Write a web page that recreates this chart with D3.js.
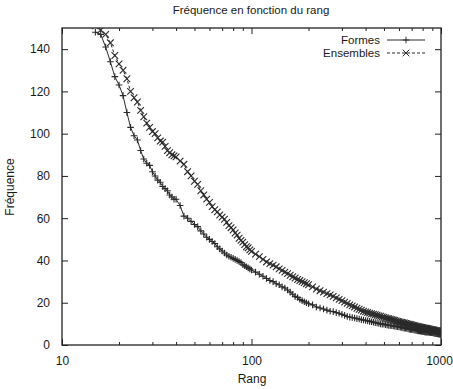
<!DOCTYPE html>
<html><head><meta charset="utf-8">
<script src="https://cdn.jsdelivr.net/npm/d3@7"></script>
<style>
body{margin:0;background:#fff;}
text{font-family:"Liberation Sans",Arial,sans-serif;fill:#1a1a1a;}
</style></head>
<body><svg id="c" width="453" height="389"></svg>
<script>
const title = "Fréquence en fonction du rang";
const xLabel = "Rang";
const yLabel = "Fréquence";
const seriesNames = ["Formes", "Ensembles"];
const xTicks = [10, 100, 1000];
const yTicks = [0, 20, 40, 60, 80, 100, 120, 140];

const ranks = [
 15,16,17,18,19,20,21,22,23,24,25,26,27,28,29,30,31,32,33,34,35,36,37,38,39,40,
 42,44,46,48,50,52,54,56,58,60,62,64,66,68,70,72,74,76,78,80,82,84,86,88,90,92,94,96,98,100,
 105,110,115,120,125,130,135,140,145,150,155,160,165,170,175,180,185,190,195,200,
 210,220,230,240,250,260,270,280,290,300,310,320,330,340,350,360,370,380,390,400,
 410,420,430,440,450,460,470,480,490,500,510,520,530,540,550,560,570,580,590,600,
 610,620,630,640,650,660,670,680,690,700,710,720,730,740,750,760,770,780,790,800,
 810,820,830,840,850,860,870,880,890,900,910,920,930,940,950,960,970,980,990,1000];

const formes = [
 148,147,141,134,127,123,118,110,103,99,97,92,88,86,85,82,80,78,77,75,74,73,71,70,69,69,
 66,61,60,58.5,57,56,54,52.5,51,50,49,48,46.5,45.5,44.5,43.5,42.6,42,41.5,41,40.5,40,39.5,39,38,37.5,37,36.5,36,35.5,
 34.5,33.5,32.5,31.5,30.5,30,29,28.5,27.5,27,26,25,24,23,22.5,21.5,21,20.5,20,19.5,
 19,18,17.5,17,16.5,16,15.8,15.3,15,14.5,14,13.5,13.2,13,12.8,12.5,12.3,12,11.8,11.6,
 11.4,11.2,11,10.8,10.6,10.4,10.2,10,9.9,9.8,9.6,9.5,9.3,9.2,9.1,9,8.9,8.8,8.7,8.6,
 8.4,8.3,8.1,8,7.9,7.8,7.6,7.5,7.4,7.3,7.2,7.1,7,6.9,6.8,6.7,6.6,6.5,6.4,6.4,
 6.3,6.2,6.1,6.1,6,6,5.9,5.9,5.8,5.8,5.7,5.6,5.5,5.4,5.3,5.2,5.2,5.1,5.05,5];

const ensembles = [
 151,149,147,143,137,133,130,126,120,117,115,111,108,105,103,101,100,98,96.5,96,94,92,91,90,89.5,89,
 87,85.5,82,80,77.5,76,73,71,69,67.5,65.5,64,63,61.5,60.5,59.5,58,56.5,55.5,54.4,53,52,50.5,49.5,48.7,47.5,46.5,46,45,44.3,
 43,41.8,40.5,39.3,38.5,37.8,37,36,35.3,34.5,33.8,33,32.3,31.7,31,30.5,30,29.5,29,28.5,
 27.5,26.5,25.7,25,24.3,23.7,23,22.3,21.6,21,20.3,19.7,19,18.5,18,17.4,16.9,16.5,16,15.7,
 15.4,15.1,14.8,14.6,14.3,14.1,13.8,13.6,13.3,13.1,12.8,12.6,12.4,12.2,12,11.8,11.6,11.4,11.2,11,
 10.8,10.7,10.5,10.4,10.2,10.1,9.9,9.8,9.6,9.5,9.3,9.2,9,8.9,8.8,8.7,8.5,8.4,8.3,8.2,
 8.1,8,7.9,7.8,7.7,7.6,7.5,7.4,7.3,7.2,7.1,7,6.9,6.8,6.8,6.7,6.7,6.6,6.55,6.5];

const svg = d3.select("#c");
const L = 62, R = 441, T = 28, B = 345;
const x = d3.scaleLog().domain([10, 1000]).range([L, R]);
const y = d3.scaleLinear().domain([0, 150]).range([B, T]);
const ink = "#222";
const fs = "12px";

svg.append("defs").append("clipPath").attr("id","clip")
  .append("rect").attr("x",L).attr("y",T).attr("width",R-L).attr("height",B-T);

svg.append("text").attr("x",251).attr("y",14).attr("text-anchor","middle")
  .style("font-size","11.5px").text(title);
svg.append("text").attr("x",252).attr("y",383).attr("text-anchor","middle")
  .style("font-size",fs).text(xLabel);
svg.append("text").attr("transform","translate(14,187) rotate(-90)").attr("text-anchor","middle")
  .style("font-size",fs).text(yLabel);

const minor = [];
[10,100].forEach(d => { for (let k=2;k<=9;k++) minor.push(d*k); });

const g = svg.append("g");
const gb = g.append("g").attr("transform",`translate(0,${B})`)
  .call(d3.axisBottom(x).tickValues(xTicks).tickFormat(d3.format("d")).tickSizeInner(-6).tickSizeOuter(0).tickPadding(11));
gb.select(".domain").remove();
gb.selectAll(".tick text").filter(d => d === 1000).attr("x", -2);
const gbm = g.append("g").attr("transform",`translate(0,${B})`)
  .call(d3.axisBottom(x).tickValues(minor).tickFormat("").tickSizeInner(-3).tickSizeOuter(0));
gbm.select(".domain").remove();
const gt = g.append("g").attr("transform",`translate(0,${T})`)
  .call(d3.axisTop(x).tickValues(xTicks).tickFormat("").tickSizeInner(-6).tickSizeOuter(0));
gt.select(".domain").remove();
const gtm = g.append("g").attr("transform",`translate(0,${T})`)
  .call(d3.axisTop(x).tickValues(minor).tickFormat("").tickSizeInner(-3).tickSizeOuter(0));
gtm.select(".domain").remove();
const gl = g.append("g").attr("transform",`translate(${L},0)`)
  .call(d3.axisLeft(y).tickValues(yTicks).tickSizeInner(-6).tickSizeOuter(0).tickPadding(12));
gl.select(".domain").remove();
const gr = g.append("g").attr("transform",`translate(${R},0)`)
  .call(d3.axisRight(y).tickValues(yTicks).tickFormat("").tickSizeInner(-6).tickSizeOuter(0));
gr.select(".domain").remove();
g.selectAll(".tick line").attr("stroke",ink).attr("stroke-width",1);
g.selectAll(".tick text").style("font-size",fs).style("font-family","'Liberation Sans',Arial,sans-serif").attr("fill","#1a1a1a");

svg.append("rect").attr("x",L).attr("y",T).attr("width",R-L).attr("height",B-T)
  .attr("fill","none").attr("stroke",ink).attr("stroke-width",1.3);

const plot = svg.append("g").attr("clip-path","url(#clip)");
const line = d3.line().x(d=>x(d[0])).y(d=>y(d[1]));
const fData = ranks.map((r,i)=>[r, formes[i]]);
const eData = ranks.map((r,i)=>[r, ensembles[i]]);
const s = 3.3;
const col = "#2a2a2a";
const sw = 1.1;
function plus(sel){ return sel.attr("d", d=>`M${x(d[0])-s},${y(d[1])}h${2*s}M${x(d[0])},${y(d[1])-s}v${2*s}`); }
function cross(sel){ return sel.attr("d", d=>`M${x(d[0])-s},${y(d[1])-s}l${2*s},${2*s}M${x(d[0])-s},${y(d[1])+s}l${2*s},${-2*s}`); }

plot.append("path").datum(fData).attr("d",line).attr("fill","none").attr("stroke",col).attr("stroke-width",1);
plot.append("g").selectAll("path").data(fData).join("path").call(plus)
  .attr("stroke",col).attr("stroke-width",sw).attr("fill","none");
plot.append("path").datum(eData).attr("d",line).attr("fill","none").attr("stroke",col).attr("stroke-width",1).attr("stroke-dasharray","3,2");
plot.append("g").selectAll("path").data(eData).join("path").call(cross)
  .attr("stroke",col).attr("stroke-width",sw).attr("fill","none");

const leg = svg.append("g");
const rows = [{name:seriesNames[0], y:40, mk:"plus", dash:null},{name:seriesNames[1], y:53, mk:"cross", dash:"3,2"}];
rows.forEach(r=>{
  leg.append("text").attr("x",380).attr("y",r.y+4).attr("text-anchor","end").style("font-size","11.5px").text(r.name);
  leg.append("line").attr("x1",387).attr("x2",425).attr("y1",r.y).attr("y2",r.y)
    .attr("stroke",col).attr("stroke-width",1).attr("stroke-dasharray",r.dash);
  const cx=406, cy=r.y;
  leg.append("path").attr("d", r.mk==="plus" ? `M${cx-s},${cy}h${2*s}M${cx},${cy-s}v${2*s}` : `M${cx-s},${cy-s}l${2*s},${2*s}M${cx-s},${cy+s}l${2*s},${-2*s}`)
    .attr("stroke",col).attr("fill","none");
});
</script></body></html>
